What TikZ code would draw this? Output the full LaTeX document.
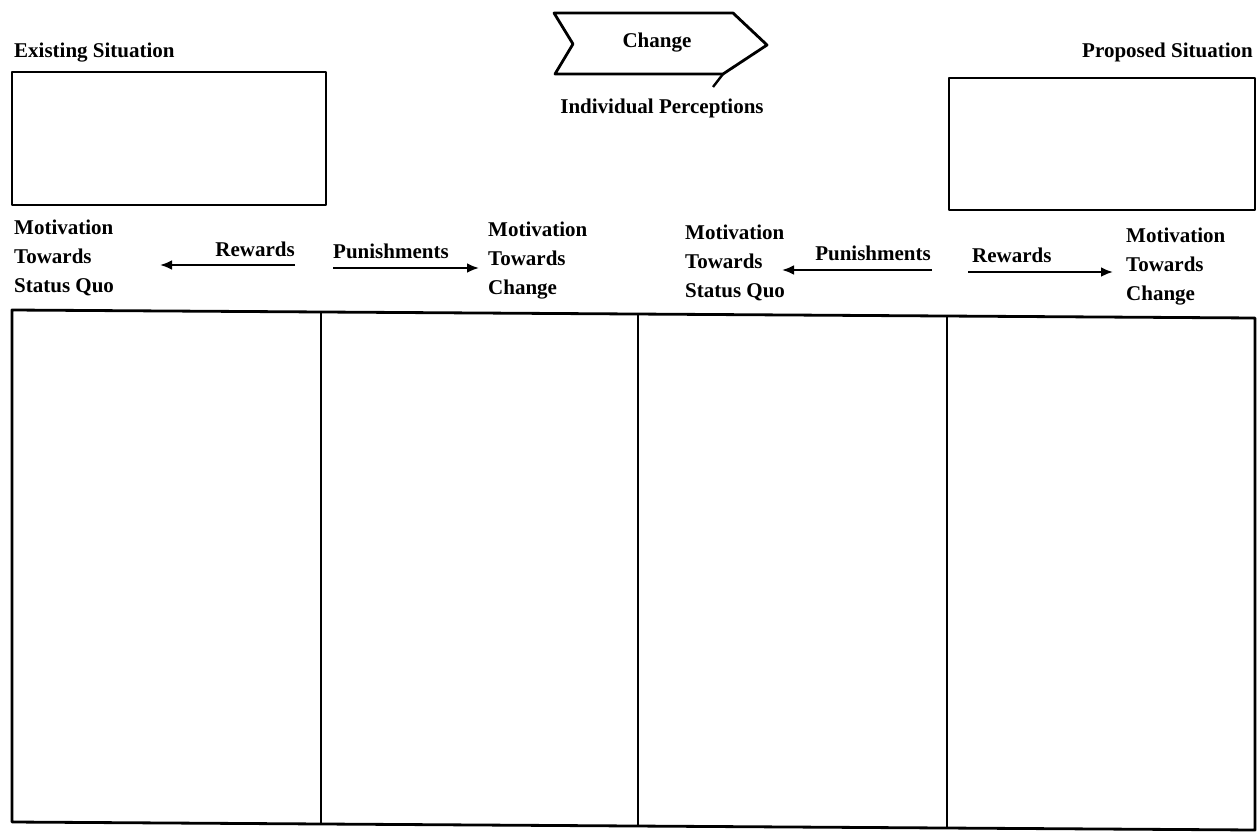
\documentclass[tikz,border=0pt]{standalone}
\usepackage{fontspec}
\setmainfont{Liberation Serif}
\usetikzlibrary{arrows.meta,positioning}

\begin{document}
\begin{tikzpicture}[x=1pt, y=-1pt,
    lbl/.style = {font=\fontsize{21}{29}\selectfont\bfseries, inner sep=0pt, align=left},
    frame/.style = {line width=2.8pt, line join=round},
    push/.style = {line width=2.8pt, -{Latex[length=12pt, width=10pt]}}]
    \useasboundingbox (0,0) rectangle (1259,838);
    % existing situation
    \node[lbl, anchor=base west](es)at(14,57){Existing Situation};
    \path[draw, frame](12,72)rectangle(326,205);
    % change arrow
    \path[draw, frame](554,13)--(733,13)--(767,45)--(723,74)--(555,74)--(573,44)--cycle;
    \path[draw, line width=2.4pt](723,74)--(713,87);
    \node[lbl](chg)at(657,43){Change};
    \node[lbl, anchor=base](ip)at(662,113){Individual Perceptions};
    % proposed situation
    \node[lbl, anchor=base east](ps)at(1253,57){Proposed Situation};
    \path[draw, frame](949,78)rectangle(1255,210);
    % motivations (base = last line)
    \node[lbl, anchor=base west](m1)at(14,292){Motivation\\Towards\\Status Quo};
    \node[lbl, anchor=base west](m2)at(488,294){Motivation\\Towards\\Change};
    \node[lbl, anchor=base west](m3)at(685,297){Motivation\\Towards\\Status Quo};
    \node[lbl, anchor=base west](m4)at(1126,300){Motivation\\Towards\\Change};
    % rewards / punishments
    \node[lbl, anchor=base east](r1)at(295,256){Rewards};
    \coordinate(r1a)at(295,265);
    \coordinate(r1b)at(160,265);
    \path[draw, push](r1a)--(r1b);
    \node[lbl, anchor=base west](p1)at(333,258){Punishments};
    \coordinate(p1a)at(333,268);
    \coordinate(p1b)at(479,268);
    \path[draw, push](p1a)--(p1b);
    \node[lbl, anchor=base east](p3)at(931,260){Punishments};
    \coordinate(p3a)at(932,270);
    \coordinate(p3b)at(782,270);
    \path[draw, push](p3a)--(p3b);
    \node[lbl, anchor=base west](r4)at(972,262){Rewards};
    \coordinate(r4a)at(968,272);
    \coordinate(r4b)at(1113,272);
    \path[draw, push](r4a)--(r4b);
    % table
    \coordinate(t1)at(12,310);
    \coordinate(t2)at(1255,318);
    \coordinate(t3)at(1255,830);
    \coordinate(t4)at(12,822);
    \path[draw, frame](t1)--(t2)--(t3)--(t4)--cycle;
    \foreach \x/\ya/\yb in {321/312/824, 638/314/827, 947/316/829}{
        \path[draw, line width=2.4pt](\x,\ya)--(\x,\yb);
    }
\end{tikzpicture}
\end{document}
